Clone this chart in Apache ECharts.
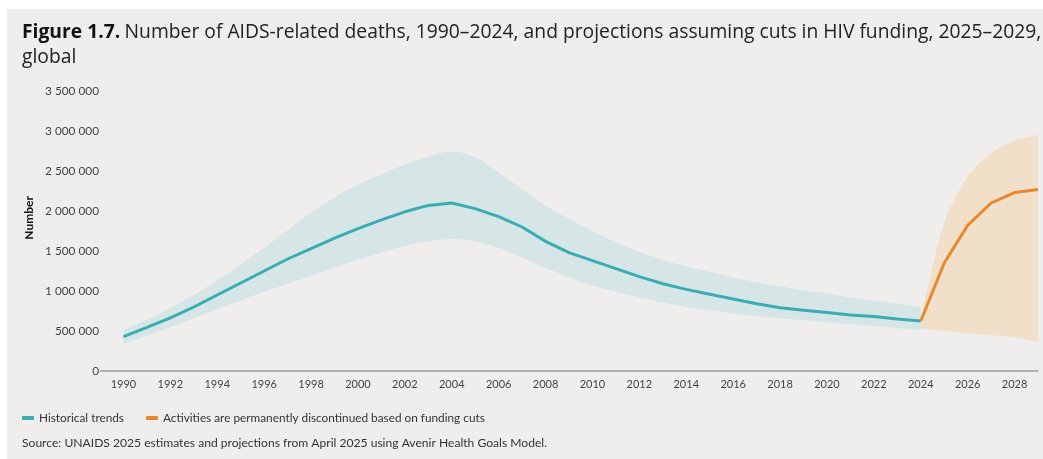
<!DOCTYPE html>
<html>
<head>
<meta charset="utf-8">
<script src="https://cdn.jsdelivr.net/npm/echarts@6/dist/echarts.min.js"></script>
<style>
  html, body { margin: 0; padding: 0; background: #ffffff; }
  #bg { position: absolute; left: 7px; top: 9px; width: 1036px; height: 450px; background: #efeeec; }
  #chart { position: absolute; left: 0; top: 0; width: 1043px; height: 459px; }
</style>
</head>
<body>
<div id="bg"></div>
<div id="chart"></div>
<script>
// ---- data ----
const xCategories = ['1989','1990','1991','1992','1993','1994','1995','1996','1997','1998','1999','2000','2001','2002','2003','2004','2005','2006','2007','2008','2009','2010','2011','2012','2013','2014','2015','2016','2017','2018','2019','2020','2021','2022','2023','2024','2025','2026','2027','2028','2029'];
const histYears = [1990,1991,1992,1993,1994,1995,1996,1997,1998,1999,2000,2001,2002,2003,2004,2005,2006,2007,2008,2009,2010,2011,2012,2013,2014,2015,2016,2017,2018,2019,2020,2021,2022,2023,2024];
const histCentral = [430000,545000,665000,800000,950000,1100000,1250000,1400000,1530000,1660000,1780000,1890000,1990000,2070000,2100000,2030000,1930000,1800000,1620000,1480000,1380000,1280000,1180000,1090000,1020000,960000,900000,840000,790000,760000,730000,700000,680000,650000,625000];
const histLow = [340000,440000,550000,660000,770000,880000,990000,1090000,1190000,1290000,1390000,1480000,1560000,1620000,1650000,1620000,1540000,1420000,1290000,1170000,1070000,990000,920000,855000,800000,760000,720000,685000,660000,635000,610000,585000,560000,535000,510000];
const histHigh = [510000,640000,790000,950000,1130000,1330000,1540000,1760000,1980000,2170000,2330000,2460000,2580000,2680000,2740000,2670000,2480000,2270000,2070000,1900000,1750000,1610000,1490000,1390000,1310000,1240000,1170000,1110000,1060000,1010000,970000,920000,880000,840000,800000];
const projYears = [2024,2025,2026,2027,2028,2029];
const projCentral = [625000,1350000,1820000,2100000,2230000,2270000];
const projLow = [530000,500000,470000,450000,420000,370000];
const projHigh = [650000,1850000,2430000,2720000,2880000,2950000];
const yTicks = [0,500000,1000000,1500000,2000000,2500000,3000000,3500000];

const titleBold = 'Figure 1.7.';
const titleText = 'Number of AIDS-related deaths, 1990–2024, and projections assuming cuts in HIV funding, 2025–2029,';
const titleLine2 = 'global';
const yName = 'Number';
const histName = 'Historical trends';
const projName = 'Activities are permanently discontinued based on funding cuts';
const sourceText = 'Source: UNAIDS 2025 estimates and projections from April 2025 using Avenir Health Goals Model.';

// ---- colours ----
const TEAL = '#3aadb4';
const TEAL_BAND = '#d6e6e6';
const ORANGE = '#e8882c';
const ORANGE_BAND = '#f2dfca';
const FONT = 'Lato';
const TFONT = 'Open Sans';

const pair = (xs, ys) => xs.map((x, i) => [String(x), ys[i]]);
const diff = (xs, hi, lo) => xs.map((x, i) => [String(x), hi[i] - lo[i]]);
const fmt = v => String(v).replace(/\B(?=(\d{3})+(?!\d))/g, ' ');

const chart = echarts.init(document.getElementById('chart'), null, { renderer: 'canvas' });
chart.setOption({
  backgroundColor: 'transparent',
  animation: false,
  textStyle: { fontFamily: FONT },
  title: {
    left: 17, top: 15,
    text: '{b|' + titleBold + '} {n|' + titleText + '}\n{n|' + titleLine2 + '}',
    textStyle: {
      rich: {
        b: { fontFamily: TFONT, fontWeight: 'bold', fontSize: 19.3, color: '#111', lineHeight: 25 },
        n: { fontFamily: TFONT, fontWeight: 'normal', fontSize: 19.3, color: '#222', lineHeight: 25 }
      }
    }
  },
  grid: { left: 100, right: 5, top: 91, bottom: 88, containLabel: false },
  legend: {
    left: 17, top: 407,
    data: [histName, projName],
    icon: 'roundRect', itemWidth: 12, itemHeight: 4, itemGap: 22,
    textStyle: { fontFamily: FONT, fontSize: 11.8, color: '#333' }
  },
  graphic: [
    { type: 'text', left: 22, top: 437, style: { text: sourceText, font: '12.1px ' + FONT, fill: '#333' } },
    { type: 'text', left: 23, top: 196, rotation: Math.PI / 2, style: { text: yName, font: 'bold 12px ' + FONT, fill: '#111' } }
  ],
  xAxis: {
    type: 'category', data: xCategories, boundaryGap: false,
    axisLine: { show: true, lineStyle: { color: '#9d9d9d', width: 1.5 } },
    axisTick: { show: false },
    splitLine: { show: false },
    axisLabel: {
      fontFamily: FONT, fontSize: 11, color: '#444', margin: 8, interval: 0,
      formatter: v => (Number(v) % 2 === 0 && Number(v) < 2029 ? v : '')
    }
  },
  yAxis: {
    type: 'value', min: yTicks[0], max: yTicks[yTicks.length - 1], interval: yTicks[1] - yTicks[0],
    axisLine: { show: false }, axisTick: { show: false }, splitLine: { show: false },
    axisLabel: { fontFamily: FONT, fontSize: 11.8, color: '#444', margin: 1, formatter: fmt }
  },
  series: [
    { name: 'histLowBase', type: 'line', stack: 'hb', data: pair(histYears, histLow), symbol: 'none', smooth: 0.4, lineStyle: { opacity: 0 }, silent: true },
    { name: 'histBand', type: 'line', stack: 'hb', data: diff(histYears, histHigh, histLow), symbol: 'none', smooth: 0.4, lineStyle: { opacity: 0 }, areaStyle: { color: TEAL_BAND, opacity: 1 }, silent: true },
    { name: 'projLowBase', type: 'line', stack: 'pb', data: pair(projYears, projLow), symbol: 'none', smooth: 0.3, lineStyle: { opacity: 0 }, silent: true },
    { name: 'projBand', type: 'line', stack: 'pb', data: diff(projYears, projHigh, projLow), symbol: 'none', smooth: 0.3, lineStyle: { opacity: 0 }, areaStyle: { color: ORANGE_BAND, opacity: 1 }, silent: true },
    { name: histName, type: 'line', data: pair(histYears, histCentral), symbol: 'none', smooth: false, color: TEAL, lineStyle: { color: TEAL, width: 3 }, z: 5 },
    { name: projName, type: 'line', data: pair(projYears, projCentral), symbol: 'none', smooth: false, color: ORANGE, lineStyle: { color: ORANGE, width: 3 }, z: 5 }
  ]
});
</script>
</body>
</html>
